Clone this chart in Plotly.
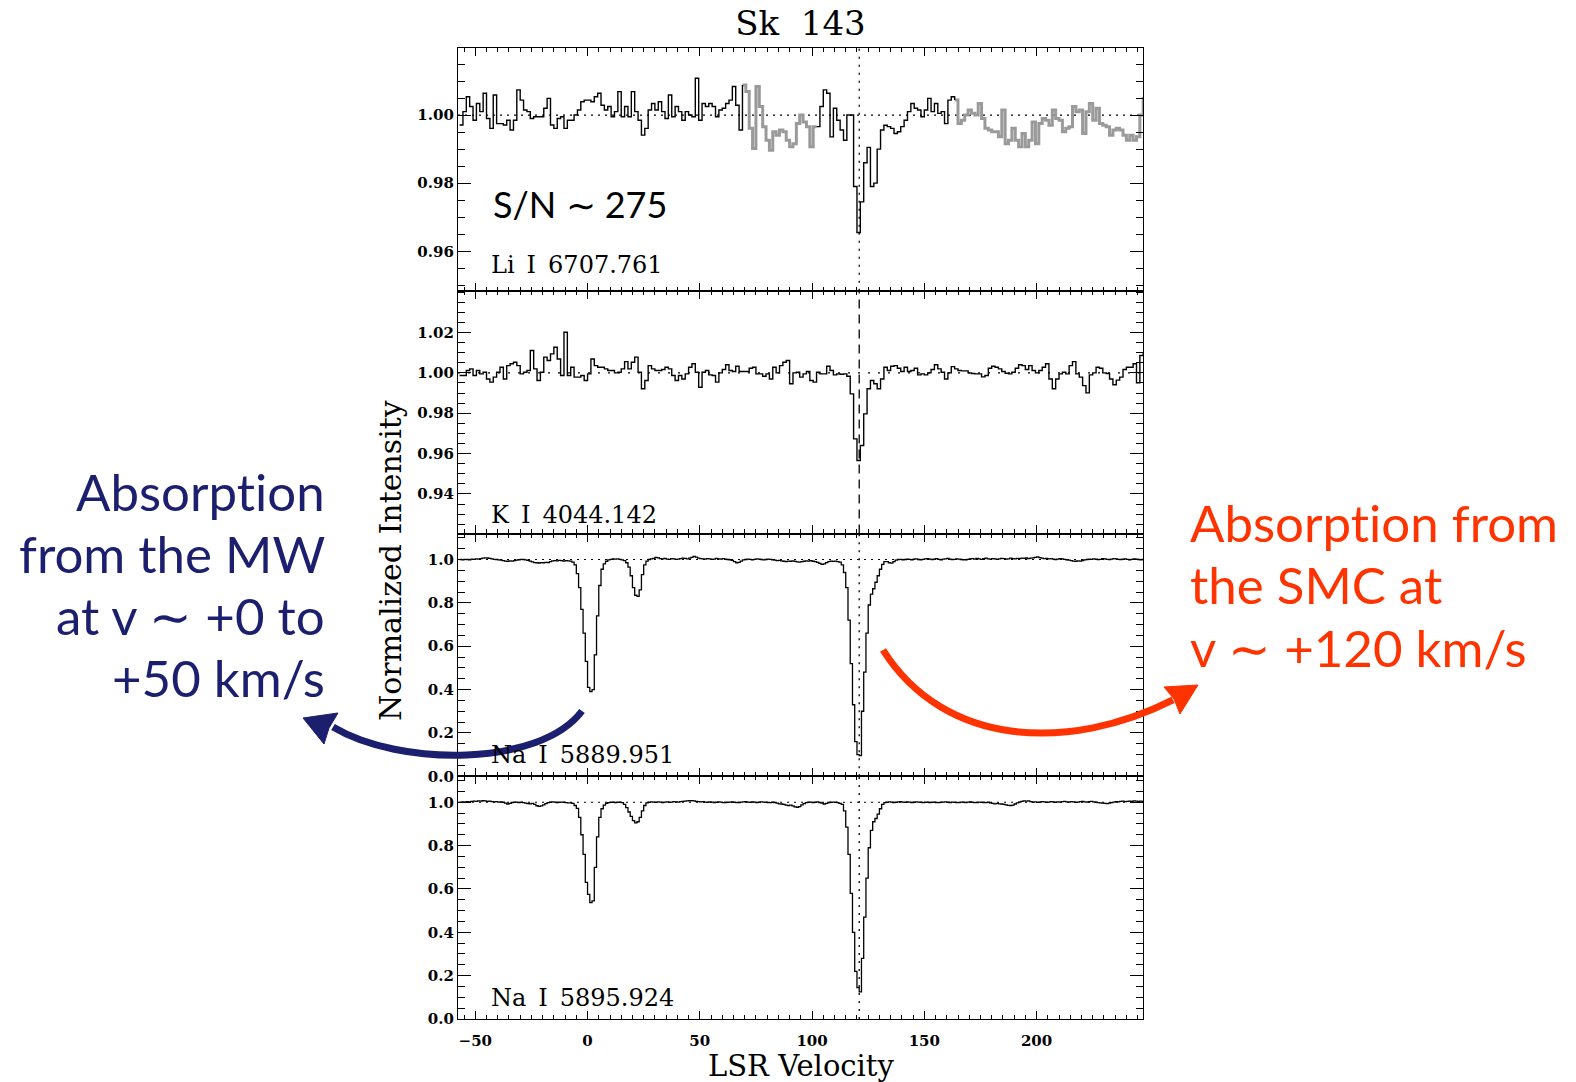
import numpy as np
import plotly.graph_objects as go
from plotly.subplots import make_subplots

# ---------------------------------------------------------------- data
# LSR velocity grids (km/s): Li I / K I spectra are binned at 1.5 km/s,
# the Na I spectra at 1.0 km/s.
VEL_COARSE = -57.0 + 1.5 * np.arange(204)
VEL_FINE = -57.0 + 1.0 * np.arange(306)

LI_6707 = [
    0.9971, 1.0010, 1.0054, 1.0025, 0.9985, 1.0034, 1.0010, 1.0064, 0.9990, 0.9961,
    1.0059, 0.9975, 0.9975, 0.9971, 0.9985, 0.9956, 0.9985, 1.0074, 1.0044, 1.0015,
    1.0010, 0.9990, 0.9995, 0.9995, 0.9995, 1.0020, 1.0049, 0.9971, 0.9961, 0.9990,
    0.9995, 0.9961, 0.9985, 0.9985, 1.0000, 1.0015, 1.0039, 1.0044, 1.0044, 1.0039,
    1.0054, 1.0064, 1.0029, 1.0015, 1.0025, 0.9995, 1.0010, 1.0069, 0.9995, 1.0025,
    0.9995, 1.0069, 1.0010, 0.9985, 0.9941, 0.9961, 1.0015, 1.0034, 1.0015, 1.0039,
    1.0010, 0.9990, 1.0059, 0.9995, 1.0025, 1.0010, 0.9985, 1.0010, 1.0000, 0.9995,
    1.0108, 0.9985, 1.0034, 1.0025, 1.0034, 1.0025, 0.9995, 1.0015, 1.0020, 1.0034,
    1.0044, 1.0084, 1.0029, 0.9956, 1.0088, 1.0069, 0.9961, 0.9902, 1.0084, 1.0025,
    0.9966, 0.9926, 0.9897, 0.9951, 0.9941, 0.9956, 0.9951, 0.9926, 0.9907, 0.9916,
    0.9975, 1.0000, 0.9980, 0.9966, 0.9907, 0.9966, 0.9966, 1.0025, 1.0074, 1.0064,
    0.9936, 1.0020, 0.9985, 0.9956, 0.9926, 1.0000, 1.0000, 0.9790, 0.9655, 0.9745,
    0.9860, 0.9905, 0.9790, 0.9800, 0.9900, 0.9956, 0.9970, 0.9966, 0.9961, 0.9946,
    0.9951, 0.9966, 0.9985, 1.0010, 1.0034, 1.0020, 1.0015, 0.9995, 1.0015, 1.0049,
    1.0010, 1.0034, 1.0005, 1.0010, 0.9975, 1.0044, 1.0054, 1.0044, 0.9975, 0.9985,
    1.0000, 1.0015, 1.0005, 1.0000, 1.0034, 0.9990, 0.9961, 0.9956, 0.9951, 0.9951,
    0.9936, 1.0015, 0.9916, 0.9926, 0.9961, 0.9926, 0.9907, 0.9946, 0.9907, 0.9926,
    0.9980, 0.9916, 0.9975, 0.9990, 0.9985, 0.9970, 1.0015, 0.9990, 0.9985, 0.9951,
    0.9961, 0.9966, 1.0025, 1.0010, 1.0015, 0.9946, 1.0010, 1.0034, 0.9985, 1.0020,
    0.9975, 0.9970, 0.9966, 0.9941, 0.9956, 0.9961, 0.9956, 0.9941, 0.9926, 0.9941,
    0.9926, 0.9936, 1.0000, 1.0054,
]

# velocity intervals of the Li I spectrum drawn in grey and in black
LI_SEGMENTS = [
    (69.0, 102.0, "grey"),
    (163.5, 247.5, "grey"),
    (-57.0, 69.0, "black"),
    (102.0, 163.5, "black"),
]

K_4044 = [
    0.9987, 0.9987, 1.0012, 1.0020, 0.9987, 1.0012, 0.9995, 1.0003, 0.9970, 0.9954,
    0.9979, 1.0003, 1.0028, 0.9970, 1.0036, 1.0045, 1.0053, 1.0036, 0.9995, 1.0003,
    1.0012, 1.0111, 1.0020, 0.9962, 1.0003, 1.0078, 1.0061, 1.0094, 1.0127, 1.0069,
    0.9987, 1.0201, 0.9987, 1.0028, 0.9979, 0.9979, 0.9987, 0.9962, 0.9995, 1.0069,
    1.0036, 1.0028, 1.0028, 1.0020, 1.0012, 1.0012, 1.0000, 1.0003, 1.0020, 1.0056,
    1.0020, 1.0053, 1.0078, 1.0003, 0.9921, 0.9962, 1.0036, 1.0020, 1.0012, 1.0012,
    1.0017, 1.0028, 1.0020, 0.9987, 0.9962, 0.9987, 0.9970, 0.9995, 1.0028, 1.0045,
    1.0003, 0.9929, 1.0003, 1.0012, 0.9990, 0.9987, 0.9954, 1.0000, 1.0017, 1.0040,
    1.0012, 1.0007, 1.0033, 1.0007, 1.0007, 1.0007, 1.0023, 1.0028, 0.9995, 0.9995,
    0.9983, 0.9995, 0.9970, 1.0028, 1.0000, 1.0036, 1.0053, 1.0061, 0.9946, 1.0000,
    1.0003, 0.9979, 0.9995, 1.0007, 0.9962, 0.9954, 1.0003, 0.9995, 0.9995, 1.0033,
    1.0012, 0.9990, 0.9995, 0.9993, 0.9995, 0.9983, 0.9896, 0.9673, 0.9566, 0.9640,
    0.9797, 0.9921, 0.9962, 0.9946, 0.9921, 0.9970, 1.0028, 1.0012, 1.0033, 1.0036,
    1.0023, 1.0007, 1.0028, 1.0007, 1.0012, 1.0023, 0.9990, 0.9995, 0.9990, 1.0000,
    1.0017, 1.0040, 1.0020, 1.0003, 0.9970, 1.0000, 1.0031, 1.0020, 1.0012, 1.0010,
    1.0010, 1.0000, 0.9997, 0.9995, 0.9995, 0.9980, 0.9987, 1.0023, 1.0033, 1.0028,
    1.0020, 1.0007, 0.9998, 0.9995, 1.0003, 1.0023, 1.0040, 1.0036, 1.0017, 1.0036,
    1.0012, 1.0000, 1.0012, 1.0028, 1.0045, 0.9970, 0.9921, 0.9970, 0.9995, 1.0003,
    0.9995, 1.0036, 1.0056, 0.9995, 0.9979, 0.9937, 0.9901, 0.9990, 1.0000, 1.0028,
    1.0023, 1.0000, 0.9997, 0.9970, 0.9941, 0.9964, 0.9979, 1.0017, 1.0028, 1.0028,
    1.0045, 0.9951, 1.0086, 1.0102,
]

NA_5890 = [
    1.000, 0.998, 1.001, 1.000, 0.999, 1.002, 1.001, 1.003, 1.002, 1.004,
    1.006, 1.008, 1.007, 1.005, 1.003, 1.001, 1.000, 0.998, 0.997, 0.995,
    0.993, 0.992, 0.994, 0.993, 0.995, 0.997, 0.999, 1.001, 1.000, 0.998,
    0.996, 0.993, 0.989, 0.986, 0.985, 0.984, 0.986, 0.985, 0.987, 0.986,
    0.990, 0.994, 0.995, 0.994, 0.996, 0.995, 0.993, 0.995, 0.994, 0.993,
    0.988, 0.975, 0.935, 0.870, 0.770, 0.660, 0.530, 0.410, 0.390, 0.400,
    0.560, 0.740, 0.880, 0.955, 0.980, 0.992, 0.998, 1.001, 1.003, 1.002,
    1.003, 1.001, 0.998, 0.995, 0.985, 0.965, 0.925, 0.870, 0.835, 0.830,
    0.860, 0.930, 0.975, 0.993, 1.000, 1.003, 1.005, 1.010, 1.008, 1.004,
    1.003, 1.005, 1.002, 1.001, 1.004, 1.003, 1.001, 1.002, 1.004, 1.006,
    1.005, 1.003, 1.006, 1.010, 1.014, 1.011, 1.006, 1.004, 1.003, 1.002,
    1.004, 1.003, 1.001, 1.002, 1.005, 1.003, 1.002, 1.004, 1.002, 1.000,
    0.999, 0.996, 0.990, 0.985, 0.987, 0.993, 0.998, 1.000, 1.002, 1.001,
    0.999, 1.001, 1.003, 1.002, 1.000, 0.998, 1.000, 1.002, 1.001, 0.999,
    0.997, 0.995, 0.996, 0.994, 0.992, 0.990, 0.993, 0.992, 0.994, 0.991,
    0.989, 0.988, 0.990, 0.992, 0.994, 0.993, 0.995, 0.992, 0.990, 0.987,
    0.982, 0.978, 0.980, 0.986, 0.990, 0.993, 0.991, 0.993, 0.990, 0.988,
    0.975, 0.940, 0.870, 0.720, 0.520, 0.330, 0.160, 0.100, 0.095, 0.300,
    0.480, 0.660, 0.790, 0.840, 0.865, 0.895, 0.925, 0.955, 0.978, 0.990,
    0.990, 0.985, 0.983, 0.990, 0.997, 1.000, 1.001, 0.999, 1.000, 1.002,
    1.001, 0.999, 1.002, 1.003, 1.000, 0.998, 1.001, 1.003, 1.004, 1.002,
    1.000, 1.002, 1.004, 1.001, 0.999, 1.002, 1.003, 1.005, 1.002, 1.000,
    1.001, 1.003, 1.002, 1.000, 0.998, 0.999, 1.001, 1.003, 1.004, 1.002,
    1.005, 1.003, 1.001, 1.004, 1.006, 1.003, 1.002, 1.004, 1.003, 1.001,
    1.003, 1.005, 1.004, 1.002, 1.003, 1.006, 1.004, 1.003, 1.005, 1.004,
    1.006, 1.005, 1.007, 1.004, 1.006, 1.008, 1.010, 1.012, 1.009, 1.006,
    1.004, 1.005, 1.003, 1.004, 1.002, 1.000, 1.002, 1.004, 1.003, 1.001,
    0.999, 0.997, 0.995, 0.993, 0.992, 0.994, 0.993, 0.995, 0.998, 1.000,
    1.002, 1.001, 1.003, 1.002, 1.000, 1.001, 1.004, 1.003, 1.001, 1.000,
    1.002, 1.004, 1.003, 1.001, 1.000, 1.002, 1.003, 1.001, 0.999, 1.001,
    1.003, 1.002, 1.000, 0.999, 1.000, 1.000,
]

NA_5896 = [
    1.000, 1.002, 1.001, 1.003, 1.002, 1.004, 1.005, 1.004, 1.006, 1.005,
    1.007, 1.006, 1.004, 1.005, 1.003, 1.002, 1.003, 1.001, 1.002, 1.000,
    0.996, 0.992, 0.995, 0.999, 1.000, 1.001, 0.999, 1.000, 0.998, 0.996,
    0.994, 0.993, 0.995, 0.990, 0.984, 0.981, 0.983, 0.988, 0.994, 0.998,
    1.000, 1.002, 1.001, 0.999, 1.000, 1.001, 1.000, 0.998, 0.997, 0.997,
    0.995, 0.985, 0.972, 0.930, 0.850, 0.760, 0.630, 0.575, 0.537, 0.545,
    0.700, 0.840, 0.930, 0.970, 0.987, 0.995, 0.998, 1.000, 1.001, 0.999,
    1.000, 1.001, 0.998, 0.990, 0.975, 0.955, 0.935, 0.915, 0.905, 0.910,
    0.930, 0.960, 0.985, 0.997, 1.000, 1.002, 1.001, 1.000, 1.002, 1.001,
    0.999, 1.001, 1.002, 1.000, 1.001, 1.003, 1.002, 1.001, 1.003, 1.004,
    1.005, 1.006, 1.007, 1.008, 1.006, 1.004, 1.003, 1.002, 1.003, 1.001,
    1.000, 1.002, 1.001, 0.999, 1.000, 1.002, 1.001, 0.998, 0.999, 1.000,
    1.001, 1.002, 1.000, 0.998, 0.999, 1.001, 1.002, 1.003, 1.001, 1.000,
    1.002, 1.001, 0.999, 1.000, 1.002, 1.001, 1.000, 0.999, 0.998, 1.000,
    0.999, 0.996, 0.993, 0.992, 0.990, 0.987, 0.985, 0.987, 0.983, 0.979,
    0.977, 0.980, 0.988, 0.994, 0.998, 1.000, 1.001, 0.999, 1.000, 1.002,
    0.999, 0.996, 0.992, 0.995, 0.999, 1.000, 1.001, 1.000, 0.998, 0.995,
    0.990, 0.960, 0.885, 0.760, 0.580, 0.400, 0.220, 0.145, 0.125, 0.280,
    0.470, 0.650, 0.790, 0.870, 0.910, 0.925, 0.945, 0.970, 0.990, 0.998,
    1.000, 1.002, 1.001, 0.999, 1.000, 1.002, 1.003, 1.001, 1.000, 1.002,
    1.001, 0.999, 1.000, 1.002, 1.001, 1.000, 0.998, 1.000, 1.001, 0.999,
    1.000, 1.001, 0.999, 0.998, 1.000, 1.001, 1.002, 1.000, 0.999, 1.001,
    1.000, 0.998, 0.999, 1.001, 1.000, 0.999, 1.001, 1.002, 1.000, 0.998,
    0.999, 1.001, 1.000, 0.999, 0.998, 1.000, 0.997, 0.995, 0.993, 0.995,
    0.993, 0.992, 0.990, 0.988, 0.986, 0.985, 0.987, 0.992, 0.997, 1.001,
    1.004, 1.006, 1.005, 1.006, 1.003, 1.001, 1.002, 1.000, 1.001, 1.003,
    1.002, 1.000, 1.001, 1.003, 1.002, 1.000, 1.002, 1.001, 1.003, 1.004,
    1.002, 1.001, 1.003, 1.002, 1.000, 1.001, 1.003, 1.004, 1.002, 1.001,
    1.003, 1.004, 1.002, 1.000, 0.998, 0.997, 0.996, 0.995, 0.994, 0.996,
    0.998, 1.001, 1.003, 1.002, 1.004, 1.005, 1.003, 1.004, 1.005, 1.004,
    1.006, 1.005, 1.004, 1.005, 1.003, 1.003,
]

LINE_LABELS = ["Li\u2002I\u20026707.761", "K\u2002I\u20024044.142",
               "Na\u2002I\u20025889.951", "Na\u2002I\u20025895.924"]
Y_RANGES = [[0.9484, 1.0197], [0.9204, 1.0407], [0.0, 1.12], [0.0, 1.12]]
Y_TICKS = [[0.96, 0.98, 1.00], [0.94, 0.96, 0.98, 1.00, 1.02],
           [0.0, 0.2, 0.4, 0.6, 0.8, 1.0], [0.0, 0.2, 0.4, 0.6, 0.8, 1.0]]
Y_MINOR = [0.005, 0.005, 0.05, 0.05]
Y_FORMAT = [".2f", ".2f", ".1f", ".1f"]
X_RANGE = [-57.7, 247.4]
SMC_VELOCITY = 121.0
TITLE = "Sk\u00a0\u00a0143"
# zero-width non-joiners keep the "ti" pair from turning into a ligature
SN_TEXT = "S/N \u223c 275"
MW_TEXT = ["Absorpt\u200cion", "from the MW", "at v \u223c +0 to", "+50 km/s"]
SMC_TEXT = ["Absorpt\u200cion from", "the SMC at", "v \u223c +120 km/s"]

# ---------------------------------------------------------------- layout
W, H = 1576, 1082
PLOT_L, PLOT_R, PLOT_T, PLOT_B = 458, 1143, 48, 1019
SERIF = "DejaVu Serif"
SANS = "Lato"
NAVY = "#1b1f6e"
ORANGE = "#ff3300"


def px(x):
    return (x - PLOT_L) / (PLOT_R - PLOT_L)


def py(y):
    return (PLOT_B - y) / (PLOT_B - PLOT_T)


fig = make_subplots(rows=4, cols=1, shared_xaxes=True, vertical_spacing=0)

vel_c = np.asarray(VEL_COARSE)
li = np.asarray(LI_6707)
for v0, v1, colour in LI_SEGMENTS:
    sel = (vel_c >= v0 - 1e-6) & (vel_c <= v1 + 1e-6)
    fig.add_trace(go.Scatter(
        x=vel_c[sel], y=li[sel], mode="lines", line_shape="hv",
        line=dict(color="#9a9a9a" if colour == "grey" else "black",
                  width=3.0 if colour == "grey" else 1.4),
        showlegend=False, hoverinfo="skip"), row=1, col=1)

fig.add_trace(go.Scatter(x=VEL_COARSE, y=K_4044, mode="lines", line_shape="hv",
                         line=dict(color="black", width=1.4),
                         showlegend=False, hoverinfo="skip"), row=2, col=1)
fig.add_trace(go.Scatter(x=VEL_FINE, y=NA_5890, mode="lines", line_shape="hv",
                         line=dict(color="black", width=1.3),
                         showlegend=False, hoverinfo="skip"), row=3, col=1)
fig.add_trace(go.Scatter(x=VEL_FINE, y=NA_5896, mode="lines", line_shape="hv",
                         line=dict(color="black", width=1.3),
                         showlegend=False, hoverinfo="skip"), row=4, col=1)

# continuum level and SMC velocity markers
for r in range(1, 5):
    fig.add_hline(y=1.0, row=r, col=1, layer="below",
                  line=dict(color="black", width=1.2,
                            dash="2px,8px" if r == 2 else "2px,5px"))
    fig.add_vline(x=SMC_VELOCITY, row=r, col=1, layer="below",
                  line=dict(color="black", width=1.3,
                            dash="9px,6px" if r == 2 else "2px,6px"))

tickfont = dict(family=SERIF, size=15, color="black", weight="bold")
fig.update_xaxes(range=X_RANGE, showline=True, linecolor="black", linewidth=1.3,
                 mirror="allticks", ticks="inside", ticklen=8, tickwidth=1.3,
                 tickcolor="black", tick0=0, dtick=50, showgrid=False,
                 zeroline=False, tickfont=tickfont, ticklabelstandoff=8,
                 minor=dict(dtick=5, ticklen=4, tickwidth=1.1,
                            tickcolor="black", ticks="inside"))
for r in range(4):
    fig.update_yaxes(range=Y_RANGES[r], tickmode="array", tickvals=Y_TICKS[r],
                     tickformat=Y_FORMAT[r], showline=True, linecolor="black",
                     linewidth=1.3, mirror="allticks", ticks="inside",
                     ticklen=13, tickwidth=1.3, tickcolor="black",
                     showgrid=False, zeroline=False, tickfont=tickfont,
                     minor=dict(tick0=0, dtick=Y_MINOR[r], ticklen=7,
                                tickwidth=1.1, tickcolor="black",
                                ticks="inside"),
                     row=r + 1, col=1)

label_centres = [265, 515, 755, 998]
for text, yc in zip(LINE_LABELS, label_centres):
    fig.add_annotation(text=text, x=px(489), y=py(yc), xref="paper",
                       yref="paper", xanchor="left", yanchor="middle",
                       showarrow=False,
                       font=dict(family=SERIF, size=24, color="black"))

fig.add_annotation(text=SN_TEXT, x=px(491), y=py(204), xref="paper",
                   yref="paper", xanchor="left", yanchor="middle",
                   showarrow=False,
                   font=dict(family=SANS, size=36, color="black"))

fig.add_annotation(text="Normalized Intensity", x=px(390), y=py(561),
                   xref="paper", yref="paper", xanchor="center",
                   yanchor="middle", textangle=-90, showarrow=False,
                   font=dict(family=SERIF, size=30, color="black"))
fig.add_annotation(text="LSR Velocity", x=px(801), y=py(1066),
                   xref="paper", yref="paper", xanchor="center",
                   yanchor="middle", showarrow=False,
                   font=dict(family=SERIF, size=29, color="black"))

for text, yc in zip(MW_TEXT, [491, 553, 615, 677]):
    fig.add_annotation(text=text, x=px(327), y=py(yc), xref="paper",
                       yref="paper", xanchor="right", yanchor="middle",
                       showarrow=False,
                       font=dict(family=SANS, size=51, color=NAVY))
for text, yc in zip(SMC_TEXT, [522, 584, 647]):
    fig.add_annotation(text=text, x=px(1188), y=py(yc), xref="paper",
                       yref="paper", xanchor="left", yanchor="middle",
                       showarrow=False,
                       font=dict(family=SANS, size=51, color=ORANGE))


def path(cmds):
    out = []
    for c in cmds:
        if isinstance(c, str):
            out.append(c)
        else:
            out.append(f"{px(c[0]):.5f},{py(c[1]):.5f}")
    return " ".join(out)


# curved arrow towards the Milky Way label
fig.add_shape(type="path", xref="paper", yref="paper", layer="above",
              path=path(["M", (582, 711), "C", (540, 767), (400, 767), (333, 727)]),
              line=dict(color=NAVY, width=7, dash="solid"))
fig.add_shape(type="path", xref="paper", yref="paper", layer="above",
              path=path(["M", (303, 718), "L", (338, 713), "L", (329, 728),
                         "L", (324, 744), "Z"]),
              line=dict(color=NAVY, width=1, dash="solid"), fillcolor=NAVY)
# curved arrow towards the SMC label
fig.add_shape(type="path", xref="paper", yref="paper", layer="above",
              path=path(["M", (883, 650), "C", (945, 748), (1070, 752), (1173, 700)]),
              line=dict(color=ORANGE, width=7, dash="solid"))
fig.add_shape(type="path", xref="paper", yref="paper", layer="above",
              path=path(["M", (1198, 685), "L", (1164, 687), "L", (1174, 699),
                         "L", (1180, 714), "Z"]),
              line=dict(color=ORANGE, width=1, dash="solid"), fillcolor=ORANGE)

fig.update_layout(
    width=W, height=H, autosize=False,
    margin=dict(l=PLOT_L, r=W - PLOT_R, t=PLOT_T, b=H - PLOT_B, pad=0),
    paper_bgcolor="white", plot_bgcolor="white",
    title=dict(text=TITLE, x=0.5, xref="paper", xanchor="center",
               y=1 - 23 / H, yref="container", yanchor="middle",
               font=dict(family=SERIF, size=34, color="black")),
    showlegend=False,
)

fig.write_html("out.html")
